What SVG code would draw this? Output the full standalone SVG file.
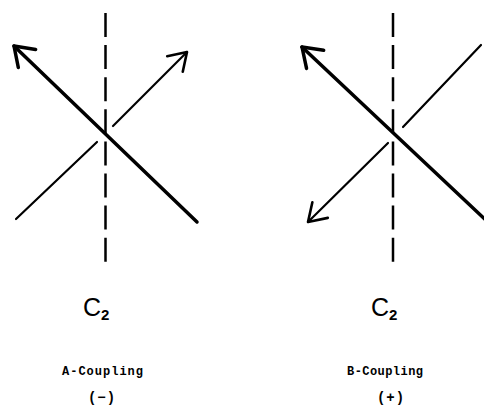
<svg xmlns="http://www.w3.org/2000/svg" width="484" height="406" viewBox="0 0 484 406">
<style>
.axis{stroke:#000;stroke-width:2.5;stroke-dasharray:24 8.1;fill:none}
.thick{stroke:#000;stroke-width:3.5;fill:none;stroke-linecap:round}
.thin{stroke:#000;stroke-width:2.2;fill:none;stroke-linecap:round}
.c2{font-family:"Liberation Sans",Arial,sans-serif;font-size:25px;fill:#000}
.sub{font-family:"Liberation Sans",Arial,sans-serif;font-size:15px;font-weight:bold;fill:#000}
.lbl{font-family:"Liberation Mono","Courier New",monospace;font-size:12px;font-weight:bold;fill:#000;text-anchor:middle}
.sign{font-family:"Liberation Mono","Courier New",monospace;font-size:14px;font-weight:bold;fill:#000;text-anchor:middle;letter-spacing:1px}
</style>
<defs>
<marker id="headThick" markerUnits="userSpaceOnUse" markerWidth="40" markerHeight="40" refX="0" refY="0" viewBox="-25 -20 30 40" orient="auto" overflow="visible">
<path d="M-18,-12.5 L0,0 L-18,12.5" fill="none" stroke="#000" stroke-width="3.5" stroke-linecap="round" stroke-linejoin="round"/>
</marker>
<marker id="headThin" markerUnits="userSpaceOnUse" markerWidth="40" markerHeight="40" refX="0" refY="0" viewBox="-25 -20 30 40" orient="auto" overflow="visible">
<path d="M-17,-11 L0,0 L-17,11" fill="none" stroke="#000" stroke-width="2.6" stroke-linecap="round" stroke-linejoin="round"/>
</marker>
</defs>
<g id="panel-a">
<line class="axis" x1="105.5" y1="13" x2="105.5" y2="262"/>
<g id="connectors-a">
<line class="thin" x1="16" y1="219" x2="97" y2="142"/>
<line class="thin" x1="113" y1="126" x2="187" y2="52" marker-end="url(#headThin)"/>
<line class="thick" x1="197" y1="222" x2="14" y2="46" marker-end="url(#headThick)"/>
</g>
<g id="label-a">
<text class="c2" x="83" y="316">C</text><text class="sub" x="101" y="320">2</text>
<text class="lbl" x="102.5" y="375" textLength="81" lengthAdjust="spacing">A-Coupling</text>
<text class="sign" x="102" y="402">(−)</text>
</g>
</g>
<g id="panel-b">
<line class="axis" x1="393" y1="13" x2="393" y2="262"/>
<g id="connectors-b">
<line class="thin" x1="481" y1="45" x2="403" y2="127"/>
<line class="thin" x1="388" y1="143" x2="308" y2="222" marker-end="url(#headThin)"/>
<line class="thick" x1="492" y1="226" x2="302" y2="47" marker-end="url(#headThick)"/>
</g>
<g id="label-b">
<text class="c2" x="371" y="316">C</text><text class="sub" x="389" y="320">2</text>
<text class="lbl" x="385" y="375" textLength="76" lengthAdjust="spacing">B-Coupling</text>
<text class="sign" x="391" y="402">(+)</text>
</g>
</g>
</svg>
